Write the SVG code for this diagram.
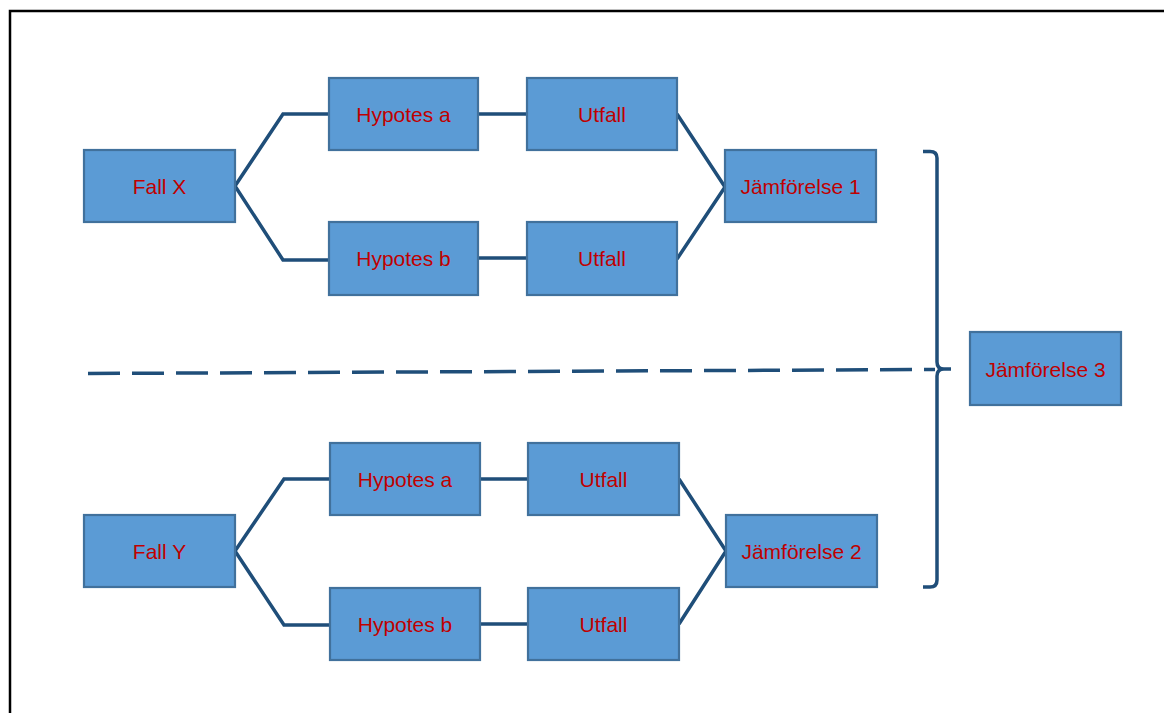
<svg xmlns="http://www.w3.org/2000/svg" width="1164" height="713" viewBox="0 0 1164 713">
<style>
.box{fill:#5b9bd5;stroke:#41719c;stroke-width:2.2}
.lbl{font-family:"Liberation Sans",Arial,sans-serif;font-size:21px;fill:#c00000;text-anchor:middle}
.con{fill:none;stroke:#1f4e79;stroke-width:3.5;stroke-linejoin:miter}
</style>
<rect x="10" y="11" width="1170" height="720" fill="#fff" stroke="#000" stroke-width="2.5"/>
<g id="connectors">
<path class="con" d="M235,186 L283,114 L329,114 M235,186 L283,260 L329,260 M478,114 L527,114 M478,258 L527,258 M677,114 L725,187 M677,259 L725,187"/>
<path class="con" d="M235,551 L284,479 L330,479 M235,551 L284,625 L330,625 M480,479 L528,479 M480,624 L528,624 M679,479 L726,551 M679,624 L726,551"/>
<path class="con" d="M88,373.5 L935,369.5" stroke-dasharray="32 12"/>
<path class="con" d="M923,151.5 L930,151.5 Q937,151.5 937,158 L937,362 Q937,369 944,369 L951,369 M944,369 Q937,369 937,376 L937,580 Q937,587 930,587 L923,587" stroke-width="3.2"/>
</g>
<g id="fallx"><rect class="box" x="84" y="150" width="151" height="72"/><text class="lbl" x="159.5" y="194">Fall X</text></g>
<g id="hypa1"><rect class="box" x="329" y="78" width="149" height="72"/><text class="lbl" x="403.5" y="122">Hypotes a</text></g>
<g id="utfall1"><rect class="box" x="527" y="78" width="150" height="72"/><text class="lbl" x="602" y="122">Utfall</text></g>
<g id="hypb1"><rect class="box" x="329" y="222" width="149" height="73"/><text class="lbl" x="403.5" y="266">Hypotes b</text></g>
<g id="utfall2"><rect class="box" x="527" y="222" width="150" height="73"/><text class="lbl" x="602" y="266">Utfall</text></g>
<g id="jam1"><rect class="box" x="725" y="150" width="151" height="72"/><text class="lbl" x="800.5" y="194">Jämförelse 1</text></g>
<g id="jam3"><rect class="box" x="970" y="332" width="151" height="73"/><text class="lbl" x="1045.5" y="377">Jämförelse 3</text></g>
<g id="fally"><rect class="box" x="84" y="515" width="151" height="72"/><text class="lbl" x="159.5" y="559">Fall Y</text></g>
<g id="hypa2"><rect class="box" x="330" y="443" width="150" height="72"/><text class="lbl" x="405" y="487">Hypotes a</text></g>
<g id="utfall3"><rect class="box" x="528" y="443" width="151" height="72"/><text class="lbl" x="603.5" y="487">Utfall</text></g>
<g id="hypb2"><rect class="box" x="330" y="588" width="150" height="72"/><text class="lbl" x="405" y="632">Hypotes b</text></g>
<g id="utfall4"><rect class="box" x="528" y="588" width="151" height="72"/><text class="lbl" x="603.5" y="632">Utfall</text></g>
<g id="jam2"><rect class="box" x="726" y="515" width="151" height="72"/><text class="lbl" x="801.5" y="559">Jämförelse 2</text></g>
</svg>
